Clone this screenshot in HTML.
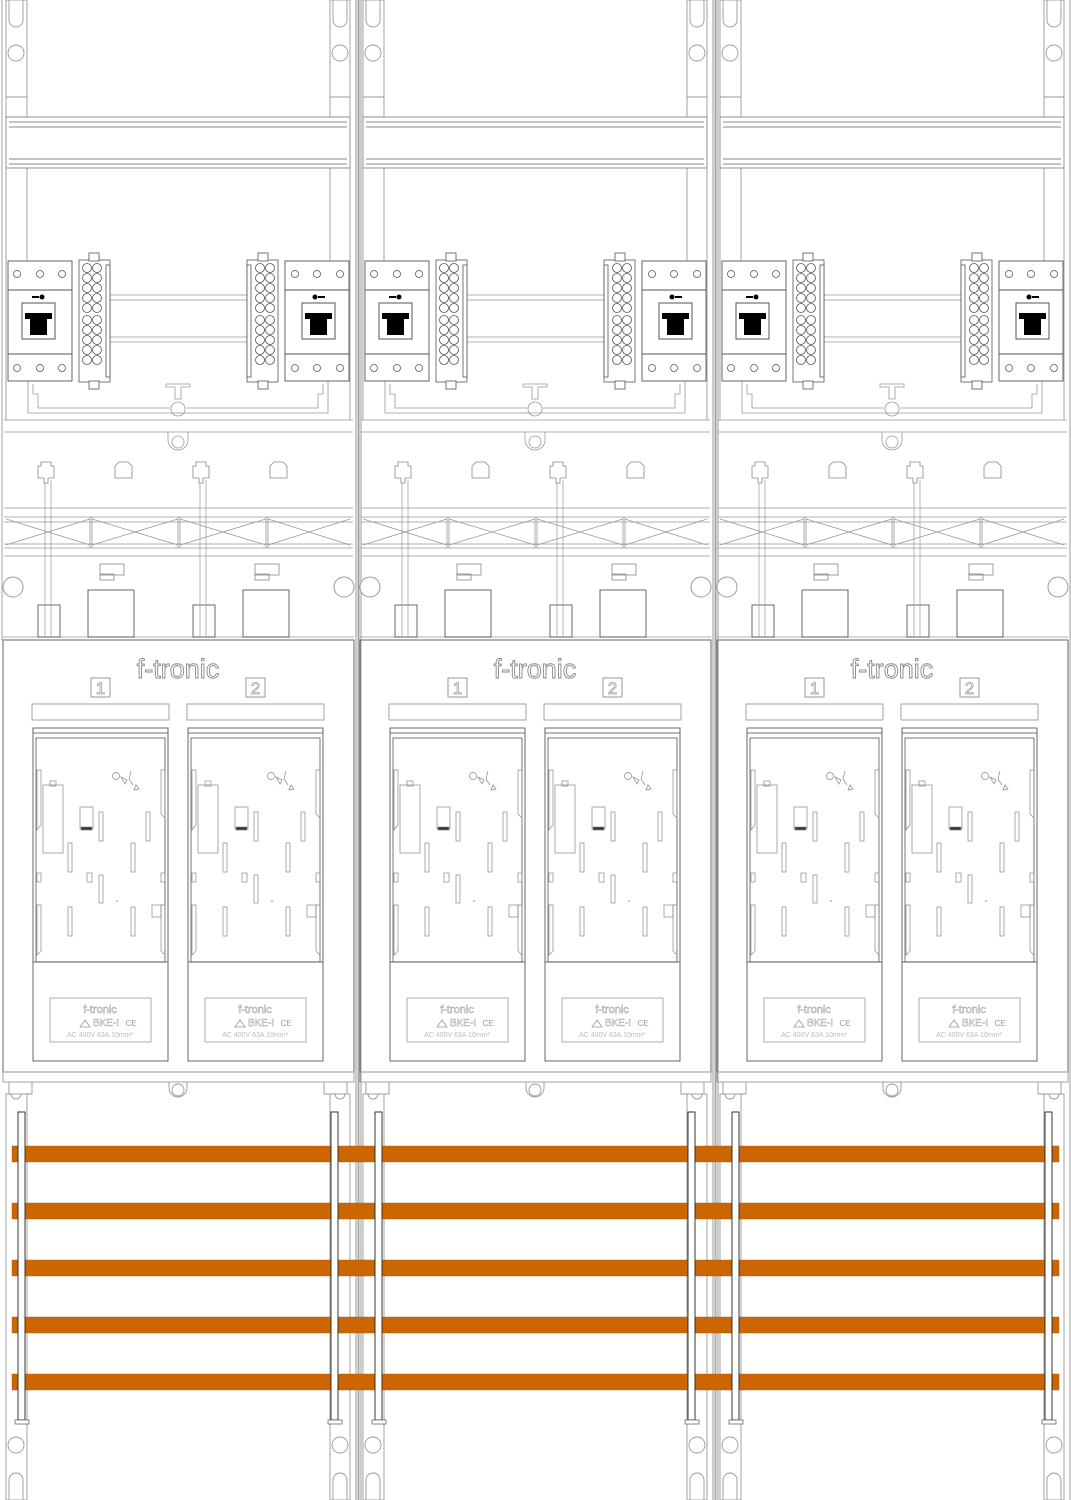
<!DOCTYPE html>
<html><head><meta charset="utf-8"><style>
html,body{margin:0;padding:0;background:#fff;}
svg{display:block;}
text{font-family:"Liberation Sans",sans-serif;}
</style></head><body>
<svg width="1071" height="1500" viewBox="0 0 1071 1500" xmlns="http://www.w3.org/2000/svg">
<defs>
<g id="tb" fill="#fff" stroke="#555" stroke-width="0.8">
  <rect x="79" y="260" width="31" height="122"/>
  <rect x="89" y="253" width="10" height="8"/><rect x="89" y="381" width="10" height="8"/>
  <rect x="106" y="265" width="4" height="112"/>
  <g id="tc"><circle cx="87" cy="268" r="4.5"/><circle cx="97" cy="268" r="4.5"/></g>
  <use href="#tc" y="10"/><use href="#tc" y="20"/><use href="#tc" y="30"/><use href="#tc" y="40"/>
  <use href="#tc" y="52"/><use href="#tc" y="62"/><use href="#tc" y="72"/><use href="#tc" y="82"/><use href="#tc" y="92"/>
</g>
<g id="brk">
  <rect x="8" y="261" width="64" height="120" fill="#fff" stroke="#555" stroke-width="0.9"/>
  <line x1="8" y1="290" x2="72" y2="290" stroke="#555"/>
  <line x1="8" y1="354" x2="72" y2="354" stroke="#555"/>
  <g fill="#fff" stroke="#555" stroke-width="0.8">
   <circle cx="17" cy="274" r="3.5"/><circle cx="40" cy="274" r="3.5"/><circle cx="62" cy="274" r="3.5"/>
   <circle cx="17" cy="368" r="3.5"/><circle cx="40" cy="368" r="3.5"/><circle cx="62" cy="368" r="3.5"/>
  </g>
  <rect x="22" y="303" width="33" height="36" fill="#fff" stroke="#555"/>
  <path d="M25 313h27v6h-5v16h-17v-16h-5z" fill="#000"/>
  <rect x="32" y="296" width="7" height="2" fill="#000"/><circle cx="42" cy="297" r="2.5" fill="#000"/>
</g>
<g id="halfM">
  <use href="#brk"/><use href="#tb"/>
  <circle cx="13" cy="587" r="10" fill="#fff" stroke="#999"/>
</g>
<g id="halfT">
  <rect x="38" y="605" width="22" height="32" fill="none" stroke="#444" stroke-width="0.8"/>
  <rect x="88" y="590" width="46" height="47" fill="none" stroke="#444" stroke-width="0.8"/>
  <line x1="45" y1="480" x2="45" y2="637" stroke="#999" stroke-width="0.7"/>
  <line x1="51" y1="480" x2="51" y2="637" stroke="#999" stroke-width="0.7"/>
  <path d="M41 462h10v4h3v12h-6v5h-4v-5h-6v-12h3z" fill="#fff" stroke="#888" stroke-width="0.8"/>
  <path d="M115 466l4 -4h9l4 4v12h-17z" fill="#fff" stroke="#888" stroke-width="0.8"/>
  <rect x="100" y="564" width="24" height="11" fill="none" stroke="#888" stroke-width="0.8"/>
  <rect x="100" y="574" width="14" height="6" fill="none" stroke="#888" stroke-width="0.8"/>
  <rect x="32" y="704" width="137" height="16" fill="none" stroke="#999" stroke-width="0.9"/>
  <rect x="91" y="678" width="19" height="19" fill="none" stroke="#999"/>
</g>
<g id="fuse" stroke="#444" stroke-width="0.8" fill="none">
  <rect x="33" y="728" width="135" height="333" fill="#fff"/>
  <line x1="33" y1="733" x2="168" y2="733"/>
  <rect x="36" y="738" width="129" height="224" stroke="#555"/>
  <line x1="33" y1="962" x2="168" y2="962"/>
  <rect x="50" y="998" width="101" height="44" stroke="#999"/>
  <g stroke="#888" stroke-width="0.7">
   <rect x="43" y="785" width="20" height="68"/><rect x="50" y="781" width="6" height="5"/>
   <rect x="80" y="807" width="13" height="22"/><rect x="81" y="827" width="11" height="3" fill="#333"/>
   <rect x="99" y="812" width="4" height="29"/><rect x="146" y="812" width="4" height="29"/>
   <rect x="68" y="843" width="4" height="29"/><rect x="131" y="843" width="4" height="29"/>
   <rect x="87" y="873" width="5" height="9"/><rect x="99" y="875" width="4" height="28"/>
   <rect x="68" y="907" width="4" height="29"/><rect x="131" y="907" width="4" height="29"/>
   <rect x="37" y="873" width="4" height="9"/><rect x="161" y="873" width="4" height="9"/>
   <path d="M37 770v60l4 -5v-55z"/><path d="M165 770v48l-4 -4v-44z"/>
   <path d="M37 905v50l4 -4v-46z"/><path d="M165 905v50l-4 -4v-46z"/>
   <rect x="152" y="905" width="9" height="12"/>
   <circle cx="116" cy="776" r="3.5"/><path d="M121 777l6 3 -2 4z"/><path d="M131 771l-2 8 4 6"/><path d="M136 785l3 4 -5 1z"/>
  </g>
  <circle cx="117" cy="901" r="0.8" fill="#888" stroke="none"/>
</g>
<g id="panel">
  <g fill="none" stroke="#999" stroke-width="0.9">
   <rect x="6" y="0" width="21" height="117"/><rect x="330" y="0" width="20" height="117"/>
   <path d="M9 0v20a7 7 0 0 0 14 0v-20"/><path d="M333 0v20a7 7 0 0 0 14 0v-20"/>
   <circle cx="16" cy="53" r="8"/><circle cx="340" cy="53" r="8"/>
   <line x1="6" y1="97" x2="27" y2="97"/><line x1="330" y1="97" x2="350" y2="97"/>
   <line x1="6" y1="168" x2="6" y2="420"/><line x1="27" y1="168" x2="27" y2="262"/>
   <line x1="330" y1="168" x2="330" y2="262"/><line x1="350" y1="168" x2="350" y2="420"/>
   <line x1="2" y1="0" x2="2" y2="640"/>
  </g>
  <g fill="#fff" stroke="#888" stroke-width="0.9">
   <rect x="6" y="117" width="344" height="51"/>
   <line x1="9" y1="122" x2="347" y2="122"/><line x1="9" y1="127" x2="347" y2="127"/>
   <line x1="9" y1="159" x2="347" y2="159"/><line x1="9" y1="164" x2="347" y2="164"/>
  </g>
  <g stroke="#999" stroke-width="0.8" fill="none">
   <line x1="110" y1="295" x2="247" y2="295"/><line x1="110" y1="300" x2="247" y2="300"/>
   <line x1="110" y1="337" x2="247" y2="337"/><line x1="110" y1="342" x2="247" y2="342"/>
   <path d="M28 381v32h300v-32"/>
   <path d="M33 384v10h5v14h132"/><path d="M323 384v10h-5v14h-132"/>
   <line x1="4" y1="420" x2="353" y2="420"/><line x1="4" y1="432" x2="353" y2="432"/>
   <path d="M166 384h24v3h-9v12h-6v-12h-9z"/>
   <circle cx="178" cy="409" r="7"/>
   <path d="M168 432v8a10 10 0 0 0 20 0v-8"/><circle cx="178" cy="442" r="6"/>
   <line x1="4" y1="508" x2="353" y2="508"/><line x1="4" y1="517" x2="353" y2="517"/>
   <line x1="4" y1="548" x2="353" y2="548"/><line x1="4" y1="556" x2="353" y2="556"/>
   <line x1="4" y1="522" x2="353" y2="522"/><line x1="4" y1="544" x2="353" y2="544"/>
   <line x1="90" y1="517" x2="90" y2="548"/><line x1="92" y1="517" x2="92" y2="548"/>
   <line x1="178" y1="517" x2="178" y2="548"/><line x1="180" y1="517" x2="180" y2="548"/>
   <line x1="266" y1="517" x2="266" y2="548"/><line x1="268" y1="517" x2="268" y2="548"/>
   <path d="M6 519L90 545M6 545L90 519M92 519L178 545M92 545L178 519M180 519L266 545M180 545L266 519M268 519L350 545M268 545L350 519"/>
   <line x1="3" y1="637" x2="354" y2="637"/>
  </g>
  <use href="#halfM"/>
  <use href="#halfM" transform="translate(357,0) scale(-1,1)"/>
  <use href="#halfT"/>
  <use href="#halfT" x="155"/>
  <rect x="3" y="640" width="351" height="432" fill="none" stroke="#666" stroke-width="1"/>
  <use href="#fuse"/><use href="#fuse" x="155"/>
  <g fill="none" stroke="#999" stroke-width="0.9">
   <rect x="3" y="1072" width="351" height="10"/>
   <path d="M9 1082v12h2a5 5 0 0 0 10 0h11v-12"/><path d="M347 1082v12h-2a5 5 0 0 1 -10 0h-11v-12"/>
   <path d="M169 1082v6a9 9 0 0 0 18 0v-6"/><circle cx="178" cy="1090" r="6"/>
   <rect x="6" y="1094" width="21" height="406"/><rect x="330" y="1094" width="20" height="406"/>
   <circle cx="16" cy="1445" r="8"/><circle cx="340" cy="1445" r="8"/>
   <path d="M9 1500v-20a7 7 0 0 1 14 0v20"/><path d="M333 1500v-20a7 7 0 0 1 14 0v20"/>
  </g>
  <line x1="356" y1="0" x2="356" y2="1500" stroke="#999" stroke-width="1"/>
  <line x1="358.5" y1="0" x2="358.5" y2="1500" stroke="#aaa" stroke-width="2"/>
  <line x1="361" y1="0" x2="361" y2="1500" stroke="#999" stroke-width="1"/>
</g>
<g id="vrail"><rect x="18" y="1112" width="7" height="308" fill="#fff" stroke="#222" stroke-width="0.9"/><rect x="15" y="1420" width="14" height="4" fill="#fff" stroke="#555" stroke-width="0.7"/></g>
</defs>

<use href="#panel"/>
<use href="#panel" x="357"/>
<use href="#panel" x="714"/>

<g fill="#cc6600" stroke="#a0522d" stroke-width="0.4">
 <rect x="12" y="1146" width="1047" height="16"/>
 <rect x="12" y="1203" width="1047" height="16"/>
 <rect x="12" y="1260" width="1047" height="16"/>
 <rect x="12" y="1317" width="1047" height="16"/>
 <rect x="12" y="1374" width="1047" height="16"/>
</g>
<use href="#vrail"/><use href="#vrail" x="313"/>
<use href="#vrail" x="357"/><use href="#vrail" x="670"/>
<use href="#vrail" x="714"/><use href="#vrail" x="1027"/>

<g fill="#fff" stroke="#888" stroke-width="0.9" font-size="27" text-anchor="middle">
 <text x="178" y="678">f-tronic</text><text x="535" y="678">f-tronic</text><text x="892" y="678">f-tronic</text>
</g>
<g fill="#fff" stroke="#999" stroke-width="0.7" font-size="17" text-anchor="middle">
 <text x="100.5" y="694">1</text><text x="255.5" y="694">2</text>
 <text x="457.5" y="694">1</text><text x="612.5" y="694">2</text>
 <text x="814.5" y="694">1</text><text x="969.5" y="694">2</text>
</g>
<g fill="#bbb" font-size="7" text-anchor="middle">
 <g transform="translate(0,0)"><text x="100" y="1013" font-size="11" fill="#fff" stroke="#aaa" stroke-width="0.6">f-tronic</text><text x="106" y="1026" font-size="10" fill="#fff" stroke="#aaa" stroke-width="0.5">BKE-I</text><text x="131" y="1026" font-size="8" fill="#999">CE</text><path d="M80 1027l5-7 5 7z" fill="none" stroke="#999" stroke-width="0.8"/><text x="100" y="1037">AC 400V   63A   10mm²</text></g>
 <g transform="translate(155,0)"><text x="100" y="1013" font-size="11" fill="#fff" stroke="#aaa" stroke-width="0.6">f-tronic</text><text x="106" y="1026" font-size="10" fill="#fff" stroke="#aaa" stroke-width="0.5">BKE-I</text><text x="131" y="1026" font-size="8" fill="#999">CE</text><path d="M80 1027l5-7 5 7z" fill="none" stroke="#999" stroke-width="0.8"/><text x="100" y="1037">AC 400V   63A   10mm²</text></g>
 <g transform="translate(357,0)"><text x="100" y="1013" font-size="11" fill="#fff" stroke="#aaa" stroke-width="0.6">f-tronic</text><text x="106" y="1026" font-size="10" fill="#fff" stroke="#aaa" stroke-width="0.5">BKE-I</text><text x="131" y="1026" font-size="8" fill="#999">CE</text><path d="M80 1027l5-7 5 7z" fill="none" stroke="#999" stroke-width="0.8"/><text x="100" y="1037">AC 400V   63A   10mm²</text></g>
 <g transform="translate(512,0)"><text x="100" y="1013" font-size="11" fill="#fff" stroke="#aaa" stroke-width="0.6">f-tronic</text><text x="106" y="1026" font-size="10" fill="#fff" stroke="#aaa" stroke-width="0.5">BKE-I</text><text x="131" y="1026" font-size="8" fill="#999">CE</text><path d="M80 1027l5-7 5 7z" fill="none" stroke="#999" stroke-width="0.8"/><text x="100" y="1037">AC 400V   63A   10mm²</text></g>
 <g transform="translate(714,0)"><text x="100" y="1013" font-size="11" fill="#fff" stroke="#aaa" stroke-width="0.6">f-tronic</text><text x="106" y="1026" font-size="10" fill="#fff" stroke="#aaa" stroke-width="0.5">BKE-I</text><text x="131" y="1026" font-size="8" fill="#999">CE</text><path d="M80 1027l5-7 5 7z" fill="none" stroke="#999" stroke-width="0.8"/><text x="100" y="1037">AC 400V   63A   10mm²</text></g>
 <g transform="translate(869,0)"><text x="100" y="1013" font-size="11" fill="#fff" stroke="#aaa" stroke-width="0.6">f-tronic</text><text x="106" y="1026" font-size="10" fill="#fff" stroke="#aaa" stroke-width="0.5">BKE-I</text><text x="131" y="1026" font-size="8" fill="#999">CE</text><path d="M80 1027l5-7 5 7z" fill="none" stroke="#999" stroke-width="0.8"/><text x="100" y="1037">AC 400V   63A   10mm²</text></g>
</g>
</svg>
</body></html>
